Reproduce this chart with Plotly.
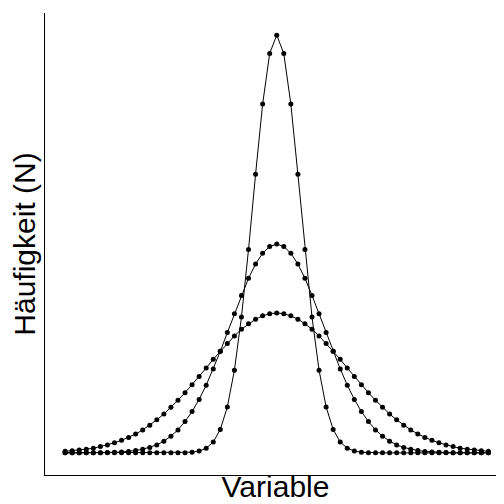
import plotly.graph_objects as go

# x positions from -6 to 6 in steps of 0.2
x = [round(-6 + 0.2 * i, 1) for i in range(61)]

# right half (x = 0 .. 6) of each curve
narrow_half = [100, 95.6, 83.5, 66.7, 48.7, 32.5, 19.8, 11.0, 5.6, 2.6, 1.1, 0.43, 0.15, 0.05, 0.01,
               0, 0, 0, 0, 0, 0, 0, 0, 0, 0, 0, 0, 0, 0, 0, 0]
mid_half = [50, 49.4, 47.8, 45.2, 41.8, 37.7, 33.3, 28.8, 24.3, 20.1, 16.2, 12.8, 9.9, 7.5, 5.5,
            4.0, 2.8, 1.9, 1.3, 0.86, 0.56, 0.35, 0.22, 0.13, 0.08, 0.04, 0.02, 0.01, 0.01, 0, 0]
wide_half = [33.5, 33.3, 32.8, 32.0, 30.9, 29.6, 28.0, 26.2, 24.3, 22.4, 20.3, 18.3, 16.3, 14.4, 12.6,
             10.9, 9.3, 7.9, 6.6, 5.5, 4.5, 3.7, 3.0, 2.4, 1.9, 1.5, 1.1, 0.88, 0.66, 0.50, 0.37]

fig = go.Figure()
for half in [wide_half, mid_half, narrow_half]:
    y = half[:0:-1] + half
    fig.add_trace(go.Scatter(x=x, y=y, mode='lines+markers',
                             line=dict(color='black', width=1),
                             marker=dict(color='black', size=5)))

fig.update_layout(
    width=504, height=504, showlegend=False,
    plot_bgcolor='white', paper_bgcolor='white',
    margin=dict(l=37, r=6, t=5, b=37, autoexpand=False),
    font=dict(family='Liberation Sans, Arial', size=25, color='black'),
    xaxis=dict(title=dict(text='Variable', standoff=0), range=[-6.57, 6.5], showticklabels=False,
               showgrid=False, zeroline=False, showline=True, linecolor='black', linewidth=1,
               ticks='', automargin=False),
    yaxis=dict(title=dict(text='Häufigkeit (N)', standoff=0), range=[-5.3, 105.3], showticklabels=False,
               showgrid=False, zeroline=False, showline=True, linecolor='black', linewidth=1,
               ticks='', automargin=False),
)

fig.write_html("out.html")
